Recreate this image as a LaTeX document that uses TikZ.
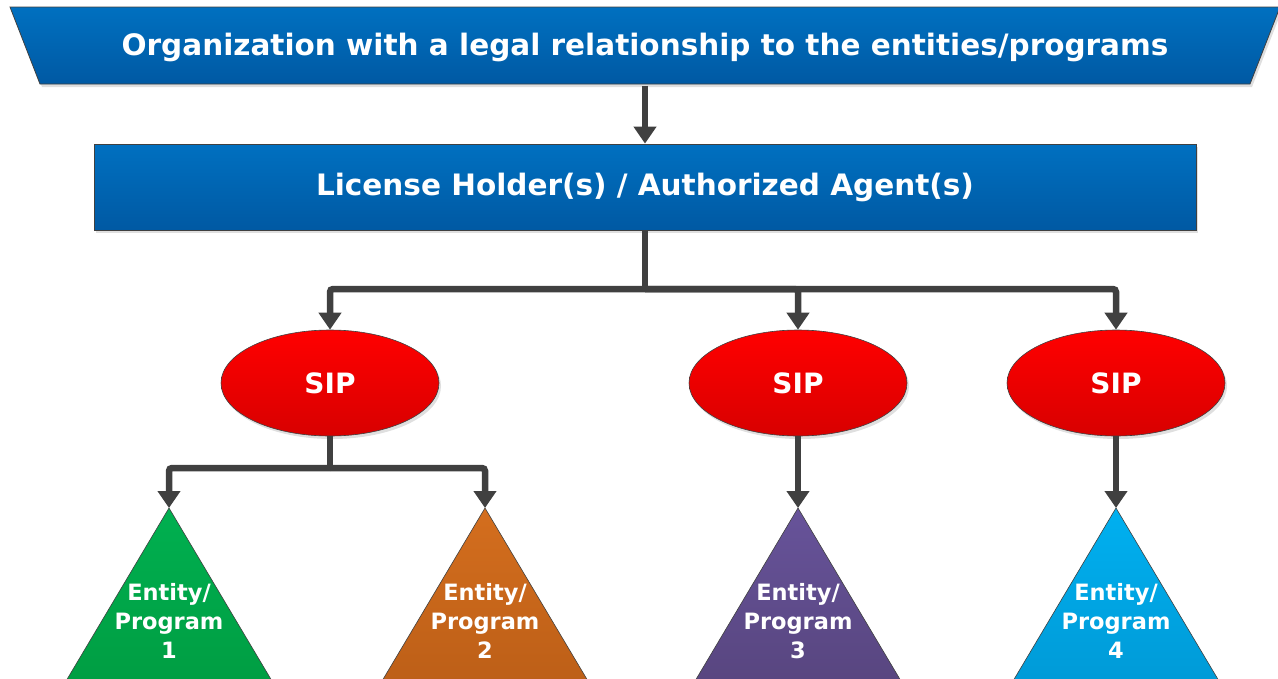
\documentclass[tikz,border=0pt]{standalone}
\usepackage{fontspec}
\setmainfont{DejaVu Sans}
\usetikzlibrary{shapes.geometric,arrows.meta,shadows}
\definecolor{linegray}{HTML}{404040}
\definecolor{blueT}{HTML}{0070C0}
\definecolor{blueB}{HTML}{0059A3}
\definecolor{redT}{HTML}{FF0000}
\definecolor{redB}{HTML}{D80000}
\definecolor{greenT}{HTML}{00B050}
\definecolor{greenB}{HTML}{009A40}
\definecolor{orangeT}{HTML}{D46E1E}
\definecolor{orangeB}{HTML}{B85C16}
\definecolor{purpleT}{HTML}{67539A}
\definecolor{purpleB}{HTML}{55437A}
\definecolor{cyanT}{HTML}{00B0F0}
\definecolor{cyanB}{HTML}{0096D2}
\tikzset{
  shd/.style={drop shadow={opacity=0.25,shadow xshift=2pt,shadow yshift=-3pt}},
  bluebox/.style={draw=linegray, line width=0.8pt, top color=blueT, bottom color=blueB, shd},
  sipnode/.style={ellipse, draw=linegray, line width=0.6pt, top color=redT, bottom color=redB,
    minimum width=218pt, minimum height=106pt, inner sep=0pt, shd,
    text=white, font=\fontsize{28}{34}\selectfont\bfseries},
  title/.style={text=white, font=\fontsize{29.5}{36}\selectfont\bfseries},
  enttext/.style={text=white, align=center, font=\fontsize{22.5}{29}\selectfont\bfseries},
  ln/.style={line width=6.5pt, draw=linegray, rounded corners=3pt, line cap=butt},
  conn/.style={ln, -{Triangle[length=17pt,width=22pt]}},
  tri/.style={draw=linegray, line width=0.6pt}
}
\begin{document}
\begin{tikzpicture}[x=1pt,y=-1pt]
\useasboundingbox (0,0) rectangle (1278,678);
\begin{scope}
\clip (0,0) rectangle (1278,678);
% top trapezoid
\path[bluebox] (10,7) -- (1280,7) -- (1250,84) -- (40,84) -- cycle;
\node[title, minimum width=1210pt, minimum height=77pt] (org) at (645,47) {Organization with a legal relationship to the entities/programs};
% license box
\node[bluebox, title, minimum width=1102pt, minimum height=86pt, inner sep=0pt] (lic) at (645,187) {License Holder(s) / Authorized Agent(s)};
% SIPs
\node[sipnode] (sip1) at (330,383) {SIP};
\node[sipnode] (sip2) at (798,383) {SIP};
\node[sipnode] (sip3) at (1116,383) {SIP};
% triangles
\coordinate (e1) at (169,508);
\coordinate (e2) at (485,508);
\coordinate (e3) at (798,508);
\coordinate (e4) at (1116,508);
\path[tri, top color=greenT, bottom color=greenB] (e1) -- ++(125,210) -- ++(-250,0) -- cycle;
\path[tri, top color=orangeT, bottom color=orangeB] (e2) -- ++(125,210) -- ++(-250,0) -- cycle;
\path[tri, top color=purpleT, bottom color=purpleB] (e3) -- ++(125,210) -- ++(-250,0) -- cycle;
\path[tri, top color=cyanT, bottom color=cyanB] (e4) -- ++(125,210) -- ++(-250,0) -- cycle;
\node[enttext] (t1) at (169,621) {Entity/\\Program\\1};
\node[enttext] (t2) at (485,621) {Entity/\\Program\\2};
\node[enttext] (t3) at (798,621) {Entity/\\Program\\3};
\node[enttext] (t4) at (1116,621) {Entity/\\Program\\4};
% connectors
\coordinate (j1) at (645,289);
\coordinate (j2) at (330,468);
\draw[conn] (org.south) -- (lic.north);
\draw[ln] (lic.south) -- (j1);
\draw[conn] (j1) -| (sip1.north);
\draw[conn] (j1) -| (sip2.north);
\draw[conn] (j1) -| (sip3.north);
\draw[ln] (sip1.south) -- (j2);
\draw[conn] (j2) -| (e1);
\draw[conn] (j2) -| (e2);
\draw[conn] (sip2.south) -- (e3);
\draw[conn] (sip3.south) -- (e4);
\end{scope}
\end{tikzpicture}
\end{document}
